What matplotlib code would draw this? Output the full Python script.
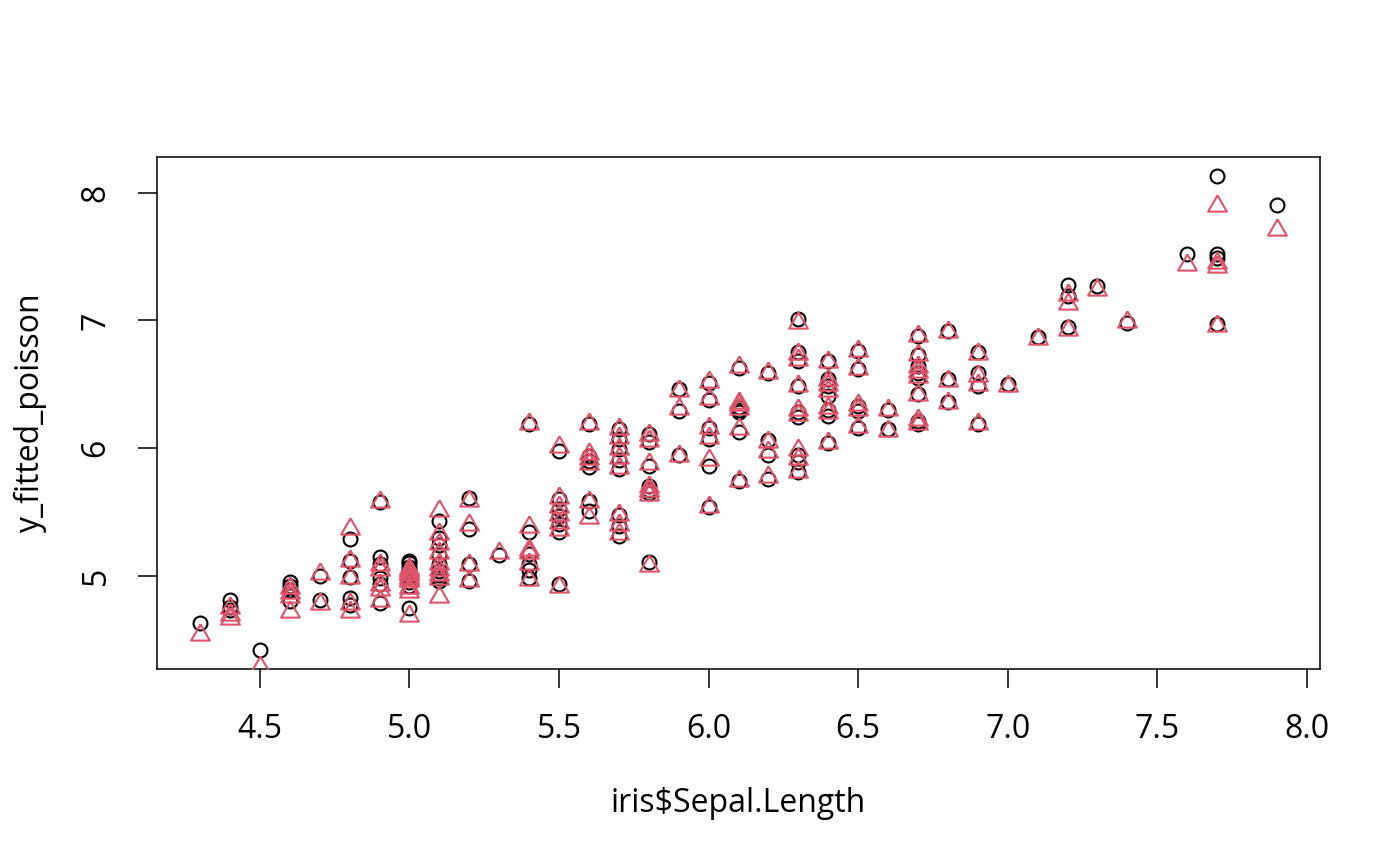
#!/usr/bin/env python3
import matplotlib
matplotlib.use("Agg")
import matplotlib.pyplot as plt

OUT_PATH = "out.png"

# iris$Sepal.Length, grouped by value
sepal_length = [
    4.3,
    4.4, 4.4, 4.4,
    4.5,
    4.6, 4.6, 4.6, 4.6,
    4.7, 4.7,
    4.8, 4.8, 4.8, 4.8, 4.8,
    4.9, 4.9, 4.9, 4.9, 4.9, 4.9,
    5.0, 5.0, 5.0, 5.0, 5.0, 5.0, 5.0, 5.0, 5.0, 5.0,
    5.1, 5.1, 5.1, 5.1, 5.1, 5.1, 5.1, 5.1, 5.1,
    5.2, 5.2, 5.2, 5.2,
    5.3,
    5.4, 5.4, 5.4, 5.4, 5.4, 5.4,
    5.5, 5.5, 5.5, 5.5, 5.5, 5.5, 5.5,
    5.6, 5.6, 5.6, 5.6, 5.6, 5.6,
    5.7, 5.7, 5.7, 5.7, 5.7, 5.7, 5.7, 5.7,
    5.8, 5.8, 5.8, 5.8, 5.8, 5.8, 5.8,
    5.9, 5.9, 5.9,
    6.0, 6.0, 6.0, 6.0, 6.0, 6.0,
    6.1, 6.1, 6.1, 6.1, 6.1, 6.1,
    6.2, 6.2, 6.2, 6.2,
    6.3, 6.3, 6.3, 6.3, 6.3, 6.3, 6.3, 6.3, 6.3,
    6.4, 6.4, 6.4, 6.4, 6.4, 6.4, 6.4,
    6.5, 6.5, 6.5, 6.5, 6.5,
    6.6, 6.6,
    6.7, 6.7, 6.7, 6.7, 6.7, 6.7, 6.7, 6.7,
    6.8, 6.8, 6.8,
    6.9, 6.9, 6.9, 6.9,
    7.0,
    7.1,
    7.2, 7.2, 7.2,
    7.3,
    7.4,
    7.6,
    7.7, 7.7, 7.7, 7.7,
    7.9,
]

# fitted values of the poisson model (black circles)
y_fitted_poisson = [
    4.63,
    4.81, 4.76, 4.73,
    4.42,
    4.95, 4.92, 4.89, 4.80,
    5.00, 4.81,
    5.29, 5.12, 4.99, 4.83, 4.77,
    5.58, 5.15, 5.09, 4.98, 4.94, 4.79,
    5.12, 5.10, 5.07, 5.05, 5.03, 5.01, 4.99, 4.95, 4.92, 4.75,
    5.43, 5.30, 5.24, 5.16, 5.09, 5.04, 5.01, 4.98, 4.96,
    5.61, 5.37, 5.09, 4.96,
    5.16,
    6.19, 5.34, 5.17, 5.09, 5.05, 4.98,
    5.98, 5.60, 5.52, 5.47, 5.41, 5.34, 4.94,
    6.19, 5.94, 5.90, 5.85, 5.59, 5.51,
    6.15, 6.07, 5.99, 5.91, 5.84, 5.48, 5.39, 5.31,
    6.11, 6.05, 5.86, 5.70, 5.67, 5.65, 5.11,
    6.46, 6.29, 5.95,
    6.51, 6.38, 6.16, 6.07, 5.86, 5.54,
    6.63, 6.32, 6.30, 6.28, 6.13, 5.74,
    6.59, 6.06, 5.95, 5.76,
    7.01, 6.75, 6.68, 6.49, 6.28, 6.24, 5.95, 5.89, 5.81,
    6.68, 6.54, 6.49, 6.41, 6.30, 6.25, 6.04,
    6.76, 6.62, 6.33, 6.29, 6.16,
    6.30, 6.15,
    6.88, 6.73, 6.64, 6.59, 6.55, 6.42, 6.21, 6.19,
    6.92, 6.54, 6.36,
    6.75, 6.59, 6.49, 6.19,
    6.50,
    6.87,
    7.28, 7.19, 6.95,
    7.27,
    6.98,
    7.52,
    8.13, 7.52, 7.49, 6.97,
    7.90,
]

# fitted values of the second model (red triangles)
y_fitted_lm = [
    4.56,
    4.77, 4.72, 4.69,
    4.31,
    4.93, 4.89, 4.86, 4.74,
    5.04, 4.80,
    5.39, 5.14, 5.01, 4.80, 4.74,
    5.60, 5.11, 5.07, 4.95, 4.91, 4.83,
    5.08, 5.06, 5.05, 5.03, 5.01, 4.99, 4.98, 4.93, 4.90, 4.71,
    5.53, 5.35, 5.27, 5.20, 5.12, 5.07, 5.03, 5.00, 4.86,
    5.61, 5.42, 5.11, 4.98,
    5.20,
    6.21, 5.41, 5.23, 5.20, 5.12, 4.99,
    6.03, 5.63, 5.56, 5.50, 5.44, 5.38, 4.94,
    6.21, 5.98, 5.94, 5.90, 5.60, 5.48,
    6.17, 6.10, 6.02, 5.95, 5.87, 5.50, 5.42, 5.35,
    6.13, 6.08, 5.90, 5.72, 5.69, 5.66, 5.10,
    6.47, 6.33, 5.96,
    6.54, 6.41, 6.18, 6.10, 5.93, 5.56,
    6.66, 6.38, 6.36, 6.33, 6.17, 5.77,
    6.61, 6.07, 5.99, 5.80,
    7.00, 6.76, 6.71, 6.51, 6.32, 6.28, 6.01, 5.94, 5.84,
    6.70, 6.56, 6.52, 6.47, 6.34, 6.30, 6.06,
    6.78, 6.64, 6.36, 6.32, 6.19,
    6.32, 6.16,
    6.90, 6.75, 6.66, 6.62, 6.58, 6.44, 6.24, 6.21,
    6.93, 6.55, 6.38,
    6.76, 6.59, 6.52, 6.21,
    6.51,
    6.88,
    7.22, 7.15, 6.95,
    7.26,
    7.01,
    7.46,
    7.92, 7.47, 7.44, 6.98,
    7.73,
]

x_ticks = [4.5, 5.0, 5.5, 6.0, 6.5, 7.0, 7.5, 8.0]
x_tick_labels = ["4.5", "5.0", "5.5", "6.0", "6.5", "7.0", "7.5", "8.0"]
y_ticks = [5, 6, 7, 8]
y_tick_labels = ["5", "6", "7", "8"]

RED = "#DF536B"
# R style pch = 2 (wider than tall)
TRIANGLE = [(0, 0.866), (-1, -0.866), (1, -0.866), (0, 0.866)]
FONT_SIZE = 23


def r_range(values):
    # R pads the data range by 4 % on each side
    lo, hi = min(values), max(values)
    pad = (hi - lo) * 0.04
    return lo - pad, hi + pad


def main():
    plt.rcParams["font.family"] = ["Open Sans", "DejaVu Sans"]

    fig = plt.figure(figsize=(14, 8.66), dpi=100)
    ax = fig.add_axes([157 / 1400, 1 - 669 / 866, 1163 / 1400, 512 / 866])

    ax.plot(sepal_length, y_fitted_poisson, linestyle="none", marker="o",
            markersize=10, markerfacecolor="none", markeredgecolor="black",
            markeredgewidth=1.5, zorder=2)
    ax.plot(sepal_length, y_fitted_lm, linestyle="none", marker=TRIANGLE,
            markersize=13.5, markerfacecolor="none", markeredgecolor=RED,
            markeredgewidth=1.5, zorder=3)

    ax.set_xlim(*r_range(sepal_length))
    ax.set_ylim(*r_range(y_fitted_poisson))

    ax.set_xticks(x_ticks)
    ax.set_xticklabels(x_tick_labels)
    ax.set_yticks(y_ticks)
    ax.set_yticklabels(y_tick_labels, rotation=90, va="center")

    ax.tick_params(axis="both", direction="out", length=14, width=1.1,
                   labelsize=FONT_SIZE, pad=18, colors="black")
    for side in ["left", "right", "top", "bottom"]:
        ax.spines[side].set_linewidth(1.1)
        ax.spines[side].set_color("black")

    fig.text(738.5 / 1400, 1 - 803 / 866, "iris$Sepal.Length",
             ha="center", va="center", fontsize=FONT_SIZE)
    fig.text(30 / 1400, 1 - 413 / 866, "y_fitted_poisson",
             ha="center", va="center", rotation=90, fontsize=FONT_SIZE)

    fig.savefig(OUT_PATH, dpi=100)
    plt.close(fig)


if __name__ == "__main__":
    main()
